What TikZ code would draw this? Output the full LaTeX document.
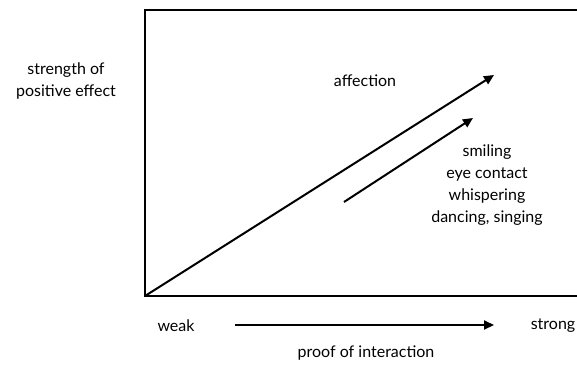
\documentclass[tikz,border=0pt]{standalone}
\usepackage{fontspec}
\setmainfont{Lato}
\usepackage{tikz}
\usetikzlibrary{arrows.meta,positioning,calc}

\begin{document}
\begin{tikzpicture}[
      x=1pt, y=-1pt,
      axisline/.style={line width=2pt},
      arrow/.style={-{Triangle[length=10pt, width=9pt]}, line width=2pt},
      lbl/.style={inner sep=0pt, align=center, font=\fontsize{16}{22}\selectfont}
    ]
      \useasboundingbox (0,0) rectangle (577,364);
      %% Frame (open on the right)
      \coordinate (topright) at (577,10);
      \coordinate (topleft)  at (145,10);
      \coordinate (origin)   at (145,296);
      \coordinate (botright) at (577,296);
      \draw[axisline] (topright) -- (topleft) -- (origin) -- (botright);
      %% Axis labels
      \node[lbl] (ylabel) at (66,81) {strength of\\positive effect};
      \node[lbl] (weak)   at (176,326) {weak};
      \node[lbl] (strong) at (553,326) {strong};
      \node[lbl] (xlabel) at (366,353) {proof of interaction};
      \coordinate (xstart) at (235,325);
      \coordinate (xend)   at (494,325);
      \draw[arrow] (xstart) -- (xend);
      %% Effect arrows
      \coordinate (affend) at (494,75);
      \draw[arrow] (origin) -- (affend);
      \node[lbl] (affection) at (365,81) {affection};
      \coordinate (smstart) at (344,202);
      \coordinate (smend)   at (473,118);
      \draw[arrow] (smstart) -- (smend);
      \node[lbl] (behav) at (487,185)
            {smiling\\eye contact\\whispering\\dancing, singing};
    \end{tikzpicture}
\end{document}
